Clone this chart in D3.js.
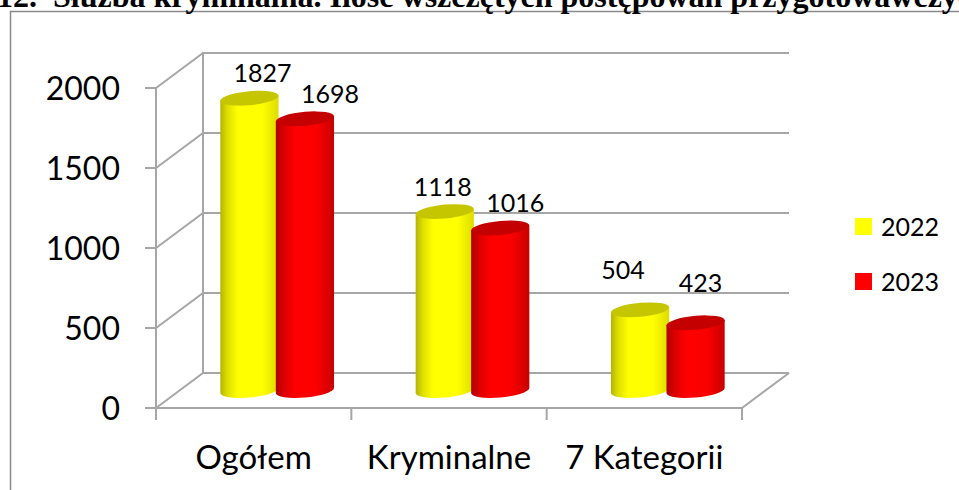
<!DOCTYPE html>
<html><head><meta charset="utf-8">
<script src="https://cdn.jsdelivr.net/npm/d3@7"></script>
<style>html,body{margin:0;padding:0;background:#fff;overflow:hidden}</style>
</head><body>
<svg id="chart" width="959" height="490"></svg>
<script>
const categories = ["Ogółem", "Kryminalne", "7 Kategorii"];
const seriesNames = ["2022", "2023"];
const values2022 = [1827, 1118, 504];
const values2023 = [1698, 1016, 423];
const yTicks = [0, 500, 1000, 1500, 2000];
const titleNum = "12.";
const titleText = "Służba kryminalna. Ilość wszczętych postępowań przygotowawczych";

const svg = d3.select("#chart");
const W = 959, H = 490;
const gridColor = "#a6a6a6";
const FONT = "Lato, 'Open Sans', sans-serif";

// frame
svg.append("path").attr("d", `M10.5,${H+2} L10.5,11.5 L${W+2},11.5`)
  .attr("fill","none").attr("stroke","#8a8a8a").attr("stroke-width",1.5);

// title (clipped at the top edge, as in the source image)
const t = svg.append("text").attr("y",7).attr("font-family","'Liberation Serif', 'Times New Roman', serif")
  .attr("font-weight","bold").attr("font-size",32).attr("fill","#000");
t.append("tspan").attr("x",-3).text(titleNum);
t.append("tspan").attr("x",53).text(titleText);

// 3D geometry
const DX = 47, DY = -35;
const y = d3.scaleLinear().domain([0,2000]).range([408,88]);
const x = d3.scaleBand().domain(categories).range([156,742]);
const bw = x.bandwidth();

const g = svg.append("g");
yTicks.forEach(v => {
  g.append("path")
    .attr("d", `M156,${y(v)} L${156+DX},${y(v)+DY} L${742+DX},${y(v)+DY}`)
    .attr("fill","none").attr("stroke",gridColor).attr("stroke-width",2);
});
g.append("line").attr("x1",156+DX).attr("x2",156+DX).attr("y1",y(0)+DY).attr("y2",y(2000)+DY)
  .attr("stroke",gridColor).attr("stroke-width",2);
g.append("path").attr("d", `M156,${y(0)} L742,${y(0)} L${742+DX},${y(0)+DY}`)
  .attr("fill","none").attr("stroke",gridColor).attr("stroke-width",2);
g.append("line").attr("x1",156).attr("x2",156).attr("y1",y(2000)).attr("y2",y(0)+12)
  .attr("stroke",gridColor).attr("stroke-width",2);
yTicks.forEach(v => {
  g.append("line").attr("x1",145).attr("x2",156).attr("y1",y(v)).attr("y2",y(v))
    .attr("stroke",gridColor).attr("stroke-width",2);
  g.append("text").attr("x",120).attr("y",y(v)).attr("dy","0.36em")
    .attr("text-anchor","end").attr("font-family",FONT).attr("font-size",32).attr("fill","#000")
    .text(v);
});
[...categories.map(c=>x(c)), 742].forEach(xx => {
  g.append("line").attr("x1",xx).attr("x2",xx).attr("y1",y(0)).attr("y2",y(0)+12)
    .attr("stroke",gridColor).attr("stroke-width",2);
});
categories.forEach(c => {
  g.append("text").attr("x",x(c)+bw/2).attr("y",469).attr("text-anchor","middle")
    .attr("font-family",FONT).attr("font-size",33).attr("fill","#000").text(c);
});

// gradients
const defs = svg.append("defs");
function grad(id, stops){
  const lg = defs.append("linearGradient").attr("id",id).attr("x1","0%").attr("x2","100%").attr("y1","0%").attr("y2","0%");
  stops.forEach(s => lg.append("stop").attr("offset",s[0]).attr("stop-color",s[1]));
}
grad("gY", [["0%","#b4b400"],["12%","#dede00"],["30%","#ffff00"],["72%","#ffff00"],["100%","#dcdc00"]]);
grad("gR", [["0%","#b00000"],["14%","#dc0000"],["35%","#ff0000"],["70%","#fa0000"],["100%","#c80000"]]);
const topColor = ["#c6c600", "#c40000"];
const bodyFill = ["url(#gY)", "url(#gR)"];

// cylinders
const barW = bw*0.298, off = bw*0.142, ry = 7, rx = barW/2;
const series = [values2022, values2023];
const barsG = svg.append("g");
const labelsG = svg.append("g");
categories.forEach((c,i) => {
  series.forEach((vals,s) => {
    const cx = x(c) + bw/2 + DX*0.5 + (s===0 ? -off : off);
    const yb = y(0) + DY*0.5;
    const yt = y(vals[i]) + DY*0.5;
    const cyl = barsG.append("g").attr("transform", `translate(${cx},0) skewY(-5) translate(${-cx},0)`);
    cyl.append("path")
      .attr("d", `M${cx-rx},${yt} L${cx-rx},${yb} A${rx},${ry} 0 0 0 ${cx+rx},${yb} L${cx+rx},${yt} Z`)
      .attr("fill", bodyFill[s]);
    cyl.append("ellipse").attr("cx",cx).attr("cy",yt).attr("rx",rx).attr("ry",ry).attr("fill",topColor[s]);
    const lx = cx + (s===0 ? 13 - 15*i : 25 - 10*i);
    const gap = 16 + Math.max(0, i-1)*15;
    labelsG.append("text").attr("x",lx).attr("y",yt - gap).attr("text-anchor","middle")
      .attr("font-family",FONT).attr("font-size",25).attr("fill","#000").text(vals[i]);
  });
});

// legend
const legColors = ["#ffff00", "#ff0000"];
seriesNames.forEach((n,k) => {
  const ly = 218 + k*55;
  svg.append("rect").attr("x",855).attr("y",ly).attr("width",17).attr("height",17).attr("fill",legColors[k]);
  svg.append("text").attr("x",881).attr("y",ly+8.5).attr("dy","0.36em")
    .attr("font-family",FONT).attr("font-size",25).attr("fill","#000").text(n);
});
</script>
</body></html>
